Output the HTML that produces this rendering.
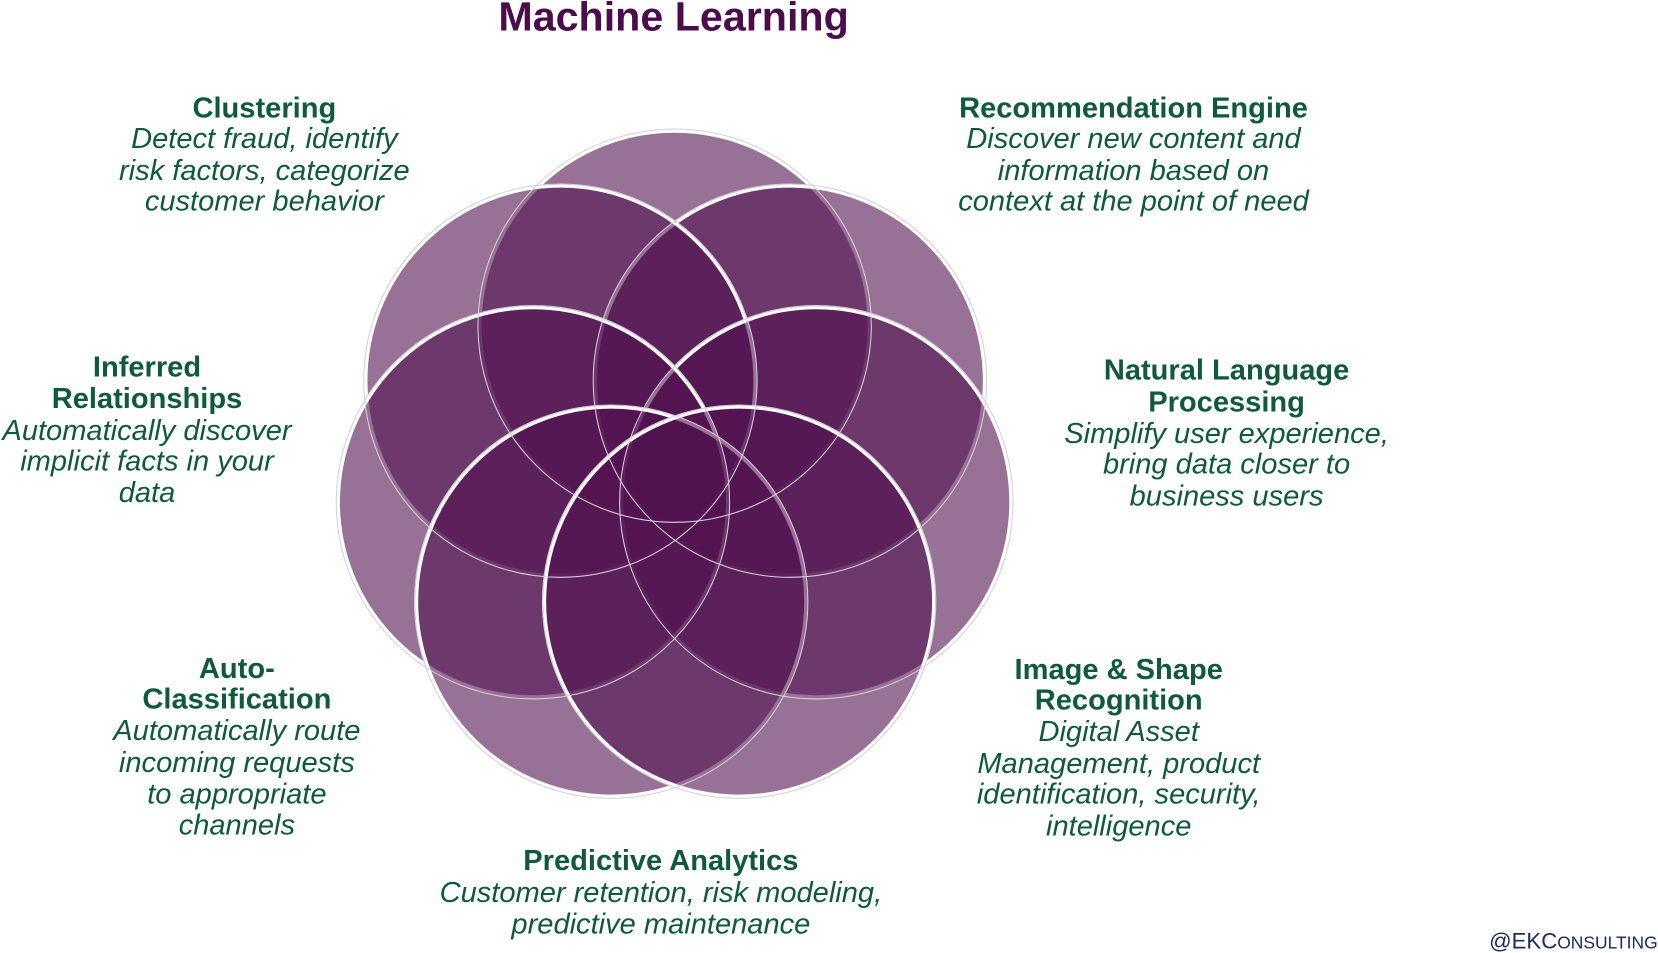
<!DOCTYPE html>
<html><head><meta charset="utf-8"><style>
html,body{margin:0;padding:0;background:#fff;}
svg{display:block;}
text{font-family:"Liberation Sans",Arial,sans-serif;fill:#0e5a3a;text-anchor:middle;font-size:27.5px;}
.b{font-weight:bold;}
.i{font-style:italic;}
</style></head><body>
<svg width="1658" height="953" viewBox="0 0 1568 901.3" xmlns="http://www.w3.org/2000/svg">
<text x="637" y="29" class="b" style="fill:#4b0c4b;font-size:39px">Machine Learning</text>
<g fill="rgb(82,18,80)" fill-opacity="0.6" stroke="#fff" stroke-width="3">
<circle cx="638" cy="308" r="184"/>
<circle cx="747" cy="360" r="184"/>
<circle cx="530" cy="360" r="184"/>
<circle cx="772" cy="475" r="184"/>
<circle cx="504" cy="475" r="184"/>
<circle cx="578" cy="569" r="184"/>
<circle cx="699" cy="569" r="184"/>
</g>
<g fill="none" stroke="#d8d0d8" stroke-width="1">
<circle cx="638" cy="308" r="186"/>
<circle cx="747" cy="360" r="186"/>
<circle cx="530" cy="360" r="186"/>
<circle cx="772" cy="475" r="186"/>
<circle cx="504" cy="475" r="186"/>
<circle cx="578" cy="569" r="186"/>
<circle cx="699" cy="569" r="186"/>
</g>
<text x="250" y="111" class="b">Clustering</text>
<text x="250" y="140" class="i">Detect fraud, identify</text>
<text x="250" y="170" class="i">risk factors, categorize</text>
<text x="250" y="199" class="i">customer behavior</text>

<text x="1072" y="111" class="b">Recommendation Engine</text>
<text x="1072" y="140" class="i">Discover new content and</text>
<text x="1072" y="170" class="i">information based on</text>
<text x="1072" y="199" class="i">context at the point of need</text>

<text x="139" y="356" class="b">Inferred</text>
<text x="139" y="386" class="b">Relationships</text>
<text x="139" y="416" class="i">Automatically discover</text>
<text x="139" y="445" class="i">implicit facts in your</text>
<text x="139" y="475" class="i">data</text>

<text x="1160" y="359" class="b">Natural Language</text>
<text x="1160" y="389" class="b">Processing</text>
<text x="1160" y="419" class="i">Simplify user experience,</text>
<text x="1160" y="448" class="i">bring data closer to</text>
<text x="1160" y="478" class="i">business users</text>

<text x="224" y="641" class="b">Auto-</text>
<text x="224" y="670" class="b">Classification</text>
<text x="224" y="700" class="i">Automatically route</text>
<text x="224" y="730" class="i">incoming requests</text>
<text x="224" y="760" class="i">to appropriate</text>
<text x="224" y="789" class="i">channels</text>

<text x="1058" y="642" class="b">Image &amp; Shape</text>
<text x="1058" y="671" class="b">Recognition</text>
<text x="1058" y="701" class="i">Digital Asset</text>
<text x="1058" y="731" class="i">Management, product</text>
<text x="1058" y="760" class="i">identification, security,</text>
<text x="1058" y="790" class="i">intelligence</text>

<text x="625" y="823" class="b">Predictive Analytics</text>
<text x="625" y="853" class="i">Customer retention, risk modeling,</text>
<text x="625" y="883" class="i">predictive maintenance</text>

<text x="1488" y="897" style="fill:#1a2a5e;font-size:21px">@EKC<tspan style="font-size:16.5px">ONSULTING</tspan></text>
</svg>
</body></html>
